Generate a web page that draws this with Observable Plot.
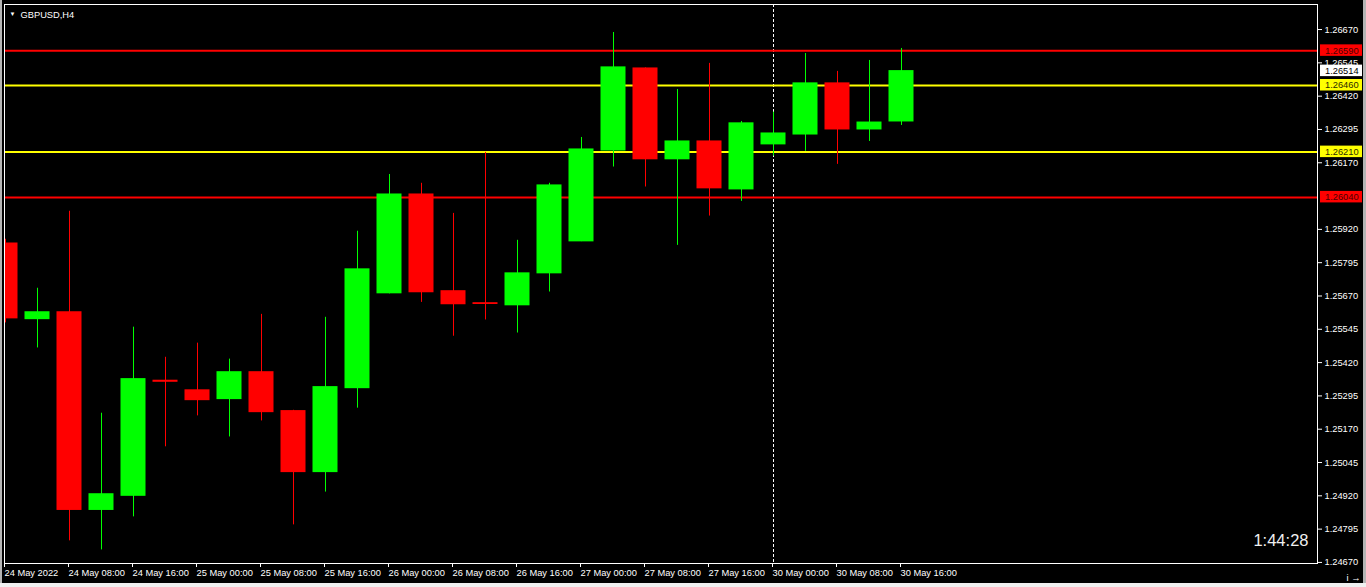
<!DOCTYPE html>
<html>
<head>
<meta charset="utf-8">
<script src="https://cdn.jsdelivr.net/npm/d3@7"></script>
<script src="https://cdn.jsdelivr.net/npm/@observablehq/plot@0.6"></script>
<style>
  html, body { margin: 0; padding: 0; background: #f0f0f0; overflow: hidden; width: 1366px; height: 587px; }
  #edgeL { position: absolute; left: 0; top: 0; width: 2px; height: 583px; background: #b4b4b4; }
  #edgeR { position: absolute; left: 1363px; top: 0; width: 3px; height: 583px; background: #b4b4b4; }
  #wrap { position: absolute; left: 2px; top: 0; width: 1361px; height: 583px; background: #000; overflow: hidden; }
  #wrap svg { display: block; }
</style>
</head>
<body>
<div id="edgeL"></div>
<div id="wrap"></div>
<div id="edgeR"></div>
<script>
// ---- Data (GBPUSD, H4) ----
const symbolLabel = "GBPUSD,H4";
const timerLabel = "1:44:28";

const barOpen  = [1.25867,1.25583,1.25609,1.24867,1.24920,1.25352,1.25316,1.25283,1.25384,1.25238,1.25009,1.25324,1.25680,1.26051,1.25688,1.25643,1.25635,1.25755,1.25875,1.26216,1.26524,1.26183,1.26250,1.26070,1.26239,1.26276,1.26468,1.26295,1.26325];
const barHigh  = [1.25883,1.25699,1.25988,1.25230,1.25553,1.25440,1.25493,1.25433,1.25601,1.25241,1.25590,1.25913,1.26126,1.26093,1.25980,1.26209,1.25879,1.26093,1.26265,1.26659,1.26526,1.26445,1.26543,1.26325,1.26360,1.26580,1.26513,1.26554,1.26599];
const barLow   = [1.25569,1.25475,1.24751,1.24717,1.24841,1.25104,1.25220,1.25141,1.25201,1.24811,1.24934,1.25249,1.25678,1.25646,1.25519,1.25580,1.25531,1.25685,1.25874,1.26154,1.26079,1.25860,1.25970,1.26025,1.26195,1.26213,1.26164,1.26250,1.26310];
const barClose = [1.25586,1.25609,1.24867,1.24926,1.25358,1.25348,1.25279,1.25384,1.25234,1.25009,1.25328,1.25770,1.26051,1.25684,1.25639,1.25640,1.25755,1.26085,1.26220,1.26528,1.26183,1.26250,1.26074,1.26318,1.26280,1.26468,1.26295,1.26321,1.26514];

const xTickBars   = [0,2,4,6,8,10,12,14,16,18,20,22,24,26,28];
const xTickLabels = ["24 May 2022","24 May 08:00","24 May 16:00","25 May 00:00","25 May 08:00","25 May 16:00","26 May 00:00","26 May 08:00","26 May 16:00","27 May 00:00","27 May 08:00","27 May 16:00","30 May 00:00","30 May 08:00","30 May 16:00"];
const separatorLabel = "30 May 00:00";

const yTicks = [1.26670,1.26545,1.26420,1.26295,1.26170,1.25920,1.25795,1.25670,1.25545,1.25420,1.25295,1.25170,1.25045,1.24920,1.24795,1.24670];

const levelPrices = [1.26590, 1.26460, 1.26210, 1.26040];
const levelKinds  = ["outer", "inner", "inner", "outer"];

// ---- Styles ----
const BULL = "#00ff00", BEAR = "#ff0000";
const kindColor = {outer: "#ff0000", inner: "#ffff00"};
const kindText  = {outer: "#4a0000", inner: "#2a2a00"};
const FONT = "Tahoma, 'Liberation Sans', Arial, sans-serif";

const candles = barOpen.map((o, i) => ({
  i, open: o, high: barHigh[i], low: barLow[i], close: barClose[i],
  color: barClose[i] >= o ? BULL : BEAR
}));
const levels = levelPrices.map((p, k) => ({price: p, kind: levelKinds[k]}));
const separatorBar = xTickBars[xTickLabels.indexOf(separatorLabel)];

const W = 1361, H = 583, MR = 46;
const plot = Plot.plot({
  width: W, height: H,
  marginLeft: 2, marginRight: MR, marginTop: 4, marginBottom: 20,
  x: {domain: [-1/32, 41], axis: null},
  y: {domain: [1.24666, 1.26764], axis: null},
  color: {type: "identity"},
  style: {background: "#000", color: "#fff", fontFamily: FONT, fontSize: "9.3px"},
  marks: [
    Plot.ruleX([separatorBar], {x: d => d, stroke: "#fff", strokeDasharray: "3,2"}),
    Plot.ruleY(levels, {y: "price", stroke: d => kindColor[d.kind], strokeWidth: 2}),
    Plot.ruleX(candles, {x: "i", y1: "low", y2: "high", stroke: "color", clip: true}),
    Plot.rect(candles, {
      x1: d => d.i - 0.5, x2: d => d.i + 0.5, y1: "open", y2: "close", fill: "color",
      insetLeft: 3.5, insetRight: 3.5, insetTop: -0.5, insetBottom: -0.5, clip: true
    }),
    Plot.frame({stroke: "#fff"}),
    Plot.axisY(yTicks, {anchor: "right", tickSize: 4, tickPadding: 3, tickFormat: d => d.toFixed(5), stroke: "#fff", fill: "#fff"}),
    Plot.axisX(xTickBars, {anchor: "bottom", tickSize: 4, tickPadding: 2, textAnchor: "start", dx: -1,
      tickFormat: d => xTickLabels[xTickBars.indexOf(d)], stroke: "#fff", fill: "#fff"}),
    Plot.text([symbolLabel], {text: d => d, frameAnchor: "top-left", dx: 16, dy: 7, textAnchor: "start", fill: "#fff", fontSize: 9.3}),
    Plot.text(["\u25BC"], {text: d => d, frameAnchor: "top-left", dx: 5, dy: 7, textAnchor: "start", fill: "#fff", fontSize: 6}),
    Plot.text([timerLabel], {text: d => d, frameAnchor: "bottom-right", dx: -9, dy: -18, textAnchor: "end", fill: "#f0f0f0", fontSize: 16.5})
  ]
});

// price tags on the right axis, positioned through Plot's y scale
const yScale = plot.scale("y");
const frameRight = W - MR;
const tags = levels.map(l => ({price: l.price, bg: kindColor[l.kind], fg: kindText[l.kind]}));
tags.push({price: barClose[barClose.length - 1], bg: "#ffffff", fg: "#000000"});
const g = d3.select(plot).append("g").attr("text-anchor", "start");
for (const t of tags) {
  const y = yScale.apply(t.price);
  g.append("rect").attr("x", frameRight + 3).attr("y", y - 6).attr("width", 42).attr("height", 11.5).attr("fill", t.bg);
  g.append("text").attr("x", frameRight + 8).attr("y", y).attr("dy", "0.35em").attr("text-anchor", "start")
    .attr("fill", t.fg).attr("font-size", 9.3).attr("font-family", FONT).text(t.price.toFixed(5));
}

document.getElementById("wrap").appendChild(plot);
</script>
</body>
</html>
